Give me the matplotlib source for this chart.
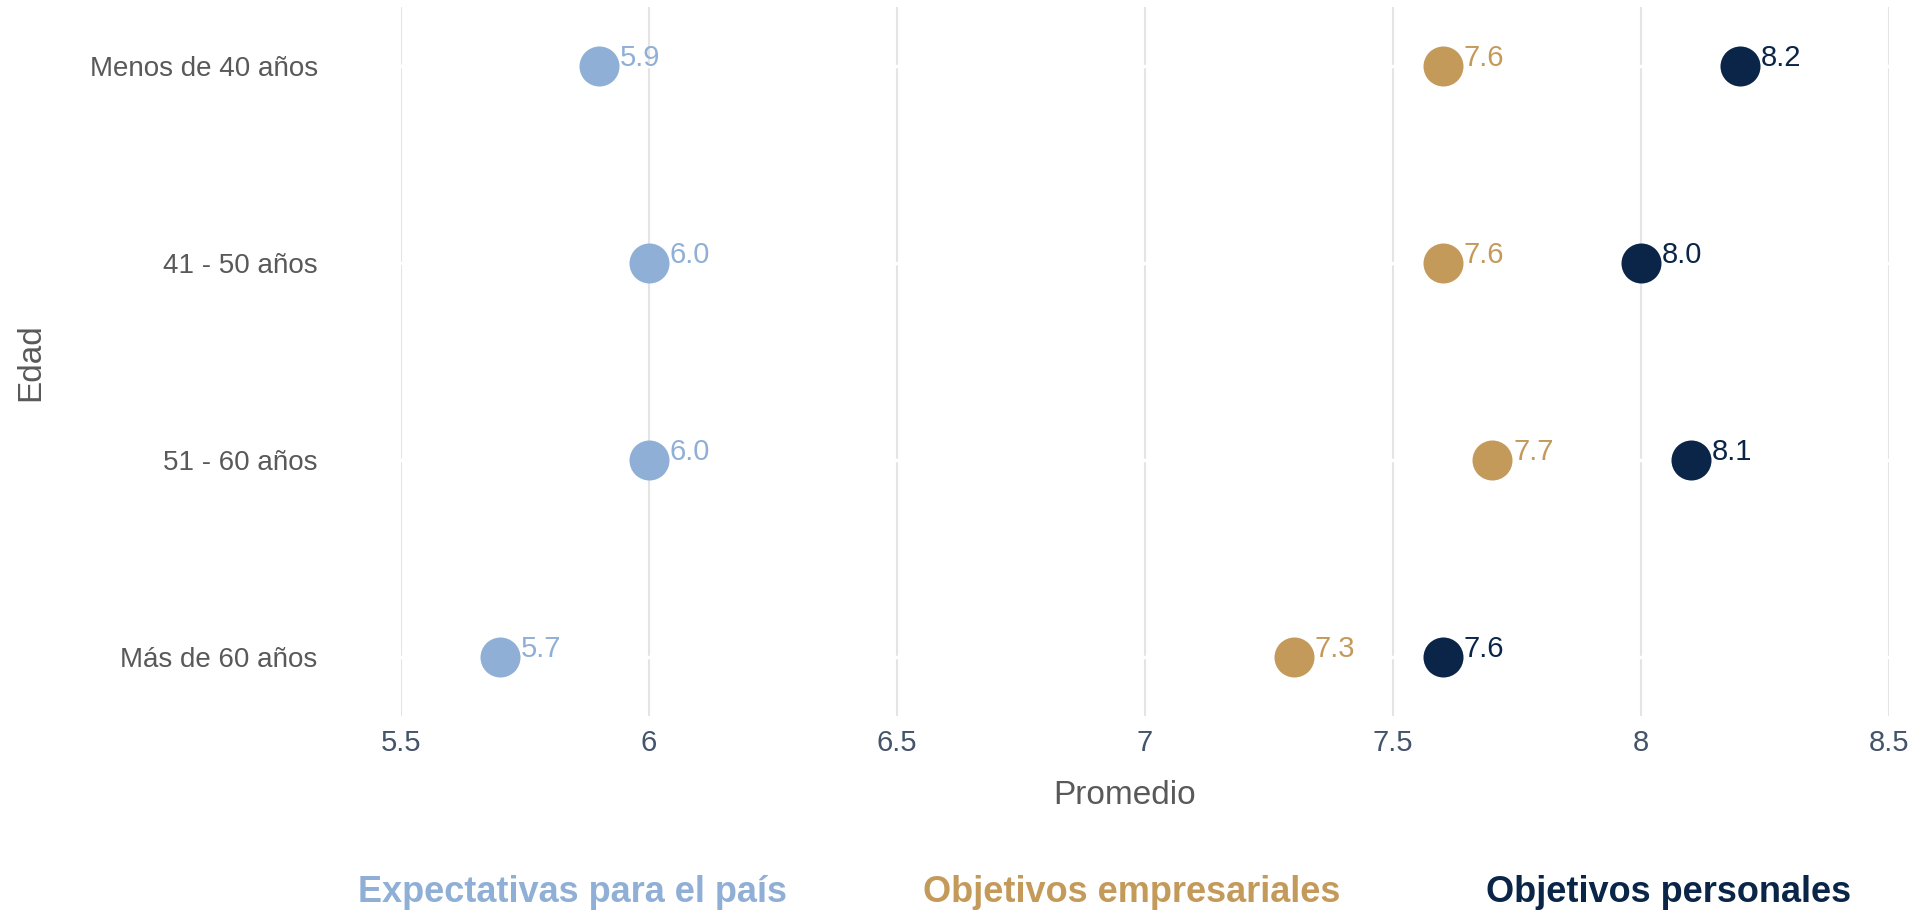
"""
Dot chart of average scores by age group.
"""

import matplotlib.pyplot as plot
import numpy

age_groups = ["Menos de 40 años", "41 - 50 años", "51 - 60 años", "Más de 60 años"]
series_names = ["Expectativas para el país", "Objetivos empresariales", "Objetivos personales"]
expectativas_pais = [5.9, 6.0, 6.0, 5.7]
objetivos_empresariales = [7.6, 7.6, 7.7, 7.3]
objetivos_personales = [8.2, 8.0, 8.1, 7.6]
x_ticks = [5.5, 6, 6.5, 7, 7.5, 8, 8.5]
x_tick_labels = ["5.5", "6", "6.5", "7", "7.5", "8", "8.5"]

colors = ["#8FAFD6", "#C49A5B", "#0A2548"]

plot.rcParams["font.family"] = ["Liberation Sans", "DejaVu Sans"]


def attach_value_labels(axes, values, y, color):
  """
  Writes the value next to each dot.
  """

  for value, row in zip(values, y):
    axes.annotate("{:.1f}".format(value),
                  xy=(value, row),
                  xytext=(15, 6),
                  textcoords="offset points",
                  ha="left", va="center",
                  fontsize=21, color=color)


figure = plot.figure(figsize=(19.13, 9.14), dpi=100)
axes = figure.add_axes([0.2096, 0.2166, 0.7779, 0.7757])

y = numpy.arange(len(age_groups))
all_series = [expectativas_pais, objetivos_empresariales, objetivos_personales]

for values, color in zip(all_series, colors):
  axes.scatter(values, y, s=830, color=color, zorder=3, linewidths=0)
  attach_value_labels(axes, values, y, color)

axes.set_xlim(5.5, 8.5)
axes.set_ylim(3.3, -0.3)

axes.set_xticks(x_ticks)
axes.set_xticklabels(x_tick_labels)
axes.set_yticks(y)
axes.set_yticklabels(age_groups)

axes.tick_params(axis="x", length=0, pad=9, labelsize=21, labelcolor="#44546A")
axes.tick_params(axis="y", length=0, pad=60, labelsize=20, labelcolor="#595959")

# vertical light grid, broken by white lines at each row
axes.grid(axis="x", color="#E4E4E4", linewidth=1.5, zorder=0)
axes.grid(axis="y", color="white", linewidth=2.5, zorder=1)
axes.set_axisbelow(True)

for spine in axes.spines.values():
  spine.set_visible(False)

figure.text(0.0162, 0.604, "Edad", rotation=90, ha="center", va="center",
            fontsize=24, color="#595959")
figure.text(1125 / 1913, 1 - 795 / 914, "Promedio", ha="center", va="center",
            fontsize=24, color="#595959")

legend_x = [572 / 1913, 1132 / 1913, 1669 / 1913]
for name, color, x in zip(series_names, colors, legend_x):
  figure.text(x, 1 - 892 / 914, name, ha="center", va="center",
              fontsize=26, fontweight="bold", color=color)

figure.savefig("out.png", dpi=100)
plot.close()
